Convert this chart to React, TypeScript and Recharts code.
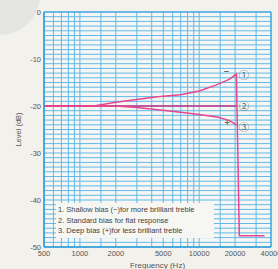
import React from "react";
import {
  LineChart,
  Line,
  XAxis,
  YAxis,
  CartesianGrid,
  ReferenceDot,
  ReferenceArea,
  Label,
} from "recharts";

// x grid (log paper) and the ones that get a label
const freqTicks = [
  500, 600, 700, 800, 900, 1000, 1500, 2000, 3000, 4000, 5000, 6000, 7000,
  8000, 9000, 10000, 15000, 20000, 30000, 40000,
];
const freqLabels = [500, 1000, 2000, 5000, 10000, 20000, 40000];

// 1 dB grid, labels every 10 dB
const levelTicks = Array.from({ length: 51 }, (_, i) => -50 + i);
const levelLabels = [0, -10, -20, -30, -40, -50];

// 1. shallow bias (incl. the cut-off drop)
const shallowFreq = [500, 1000, 1300, 2000, 3000, 4000, 5000, 7000, 10000, 14000, 18000, 20500, 21700, 35300];
const shallowLevel = [-20, -20, -20, -19.2, -18.6, -18.2, -17.9, -17.6, -16.8, -15.5, -14.3, -13.2, -47.6, -47.6];

// 2. standard bias
const standardFreq = [500, 1000, 2000, 5000, 10000, 20500];
const standardLevel = [-20, -20, -20, -20, -20, -20];

// 3. deep bias
const deepFreq = [500, 1000, 2000, 3000, 4500, 6700, 10000, 14500, 18000, 20500];
const deepLevel = [-20, -20, -20, -20.3, -20.8, -21.3, -21.8, -22.4, -23.1, -24];

// curve markers: [freq, level, text]
const markers: [number, number, string][] = [
  [23800, -13.4, "①"],
  [23800, -20.1, "②"],
  [23800, -24.6, "③"],
  [16900, -12.8, "−"],
  [17200, -23.6, "+"],
];

const legendLines = [
  "1. Shallow bias (−)for more brilliant treble",
  "2. Standard bias for flat response",
  "3. Deep bias (+)for less brilliant treble",
];

const toPoints = (f: number[], l: number[]) => f.map((x, i) => ({ f: x, v: l[i] }));

const FONT = "'Liberation Sans', Arial, sans-serif";
const GRID = "#62b8e6";
const BORDER = "#2a9bdb";
const PINK = "#e8468f";

export default function App() {
  return (
    <div
      style={{
        position: "absolute",
        left: 0,
        top: 0,
        width: 278,
        height: 269,
        background: "#f2f1ec",
        overflow: "hidden",
      }}
    >
      {/* faint shadow in the corner of the photographed page */}
      <div
        style={{
          position: "absolute",
          left: -40,
          top: -45,
          width: 80,
          height: 80,
          borderRadius: "50%",
          background: "#e4e4e2",
        }}
      />
      <LineChart
        width={278}
        height={269}
        margin={{ top: 12, right: 7, left: 0, bottom: 0 }}
        style={{ position: "absolute", left: 0, top: 0 }}
      >
        <CartesianGrid stroke={GRID} strokeWidth={1} fill="#f6f7f4" fillOpacity={1} />
        <XAxis
          dataKey="f"
          type="number"
          scale="log"
          domain={[500, 40000]}
          ticks={freqTicks}
          interval={0}
          allowDataOverflow
          height={22}
          tickSize={0}
          tickMargin={4}
          axisLine={{ stroke: BORDER }}
          tick={{ fontSize: 7.5, fill: "#555", fontFamily: FONT }}
          tickFormatter={(v: number) => (freqLabels.includes(v) ? String(v) : "")}
        >
          <Label
            value="Frequency (Hz)"
            position="insideBottom"
            offset={1}
            style={{ fontSize: 8, fill: "#555", fontFamily: FONT }}
          />
        </XAxis>
        <YAxis
          type="number"
          domain={[-50, 0]}
          ticks={levelTicks}
          interval={0}
          width={44}
          tickSize={0}
          tickMargin={3}
          axisLine={{ stroke: BORDER }}
          tick={{ fontSize: 7.5, fill: "#555", fontFamily: FONT }}
          tickFormatter={(v: number) => (levelLabels.includes(v) ? String(v) : "")}
        >
          <Label
            value="Level (dB)"
            angle={-90}
            position="center"
            dx={-4}
            style={{ fontSize: 7.5, fill: "#555", fontFamily: FONT }}
          />
        </YAxis>
        <ReferenceArea
          x1={500}
          x2={40000}
          y1={-50}
          y2={0}
          fill="none"
          stroke={BORDER}
          strokeWidth={1}
        />
        <Line
          data={toPoints(standardFreq, standardLevel)}
          dataKey="v"
          type="linear"
          stroke="#c2317f"
          strokeWidth={1.5}
          dot={false}
          isAnimationActive={false}
        />
        <Line
          data={toPoints(deepFreq, deepLevel)}
          dataKey="v"
          type="linear"
          stroke={PINK}
          strokeWidth={1.5}
          dot={false}
          isAnimationActive={false}
        />
        <Line
          data={toPoints(shallowFreq, shallowLevel)}
          dataKey="v"
          type="linear"
          stroke={PINK}
          strokeWidth={1.5}
          dot={false}
          isAnimationActive={false}
        />
        {markers.map(([f, v, t]) => (
          <ReferenceDot
            key={t}
            x={f}
            y={v}
            r={0}
            fill="none"
            stroke="none"
            label={{
              value: t,
              position: "center",
              fill: "#666",
              fontSize: t === "−" || t === "+" ? 9 : 10.5,
              fontWeight: t === "−" || t === "+" ? 700 : 400,
              fontFamily: "'Noto Sans CJK JP', " + FONT,
            }}
          />
        ))}
      </LineChart>
      <div
        style={{
          position: "absolute",
          left: 56,
          top: 203,
          width: 158,
          height: 35,
          background: "#f6f6f2",
          fontFamily: FONT,
          fontSize: 7.5,
          lineHeight: "10.5px",
          color: "#444",
          paddingLeft: 2,
          paddingTop: 2,
          boxSizing: "border-box",
          whiteSpace: "nowrap",
        }}
      >
        {legendLines.map((s) => (
          <div key={s}>{s}</div>
        ))}
      </div>
    </div>
  );
}
